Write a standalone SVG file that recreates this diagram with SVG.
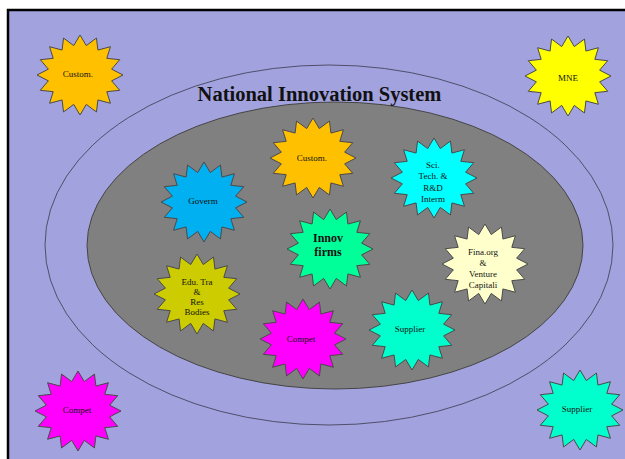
<svg xmlns="http://www.w3.org/2000/svg" xmlns:xlink="http://www.w3.org/1999/xlink" width="625" height="459" viewBox="0 0 625 459">
<style>
.star{stroke:#4a4a4a;stroke-width:1}
.t{font-family:"Liberation Serif","Times New Roman",serif;font-size:9px;fill:#111;text-anchor:middle}
.b{font-family:"Liberation Serif","Times New Roman",serif;font-size:12px;font-weight:bold;fill:#111;text-anchor:middle}
.title{font-family:"Liberation Serif","Times New Roman",serif;font-size:20.5px;font-weight:bold;fill:#111;text-anchor:middle}
</style>
<defs>
<path id="star16" d="M0,-40 L6.29,-29.42 L16.46,-36.96 L17.92,-24.94 L30.41,-28.28 L26.81,-16.67 L39.73,-15.31 L31.63,-5.85 L43,0 L31.63,5.85 L39.73,15.31 L26.81,16.67 L30.41,28.28 L17.92,24.94 L16.46,36.96 L6.29,29.42 L0,40 L-6.29,29.42 L-16.46,36.96 L-17.92,24.94 L-30.41,28.28 L-26.81,16.67 L-39.73,15.31 L-31.63,5.85 L-43,0 L-31.63,-5.85 L-39.73,-15.31 L-26.81,-16.67 L-30.41,-28.28 L-17.92,-24.94 L-16.46,-36.96 L-6.29,-29.42 Z"/>
</defs>
<rect x="0" y="0" width="625" height="459" fill="#ffffff"/>
<rect x="8" y="10" width="640" height="470" fill="#a2a2de" stroke="#000" stroke-width="2.5"/>
<g id="outer-ellipse"><ellipse cx="329" cy="245" rx="284" ry="180" fill="none" stroke="#4f4f6a" stroke-width="1"/></g>
<g id="inner-ellipse"><ellipse cx="335" cy="245.5" rx="248" ry="143.5" fill="#808080" stroke="#454545" stroke-width="1"/></g>
<g id="title"><text class="title" x="319.5" y="101">National Innovation System</text></g>
<g id="connectors"></g>
<g id="custom-outer"><use xlink:href="#star16" href="#star16" x="80" y="75" class="star" fill="#ffc000"/><text class="t" x="78" y="76.5">Custom.</text></g>
<g id="mne"><use xlink:href="#star16" href="#star16" x="568" y="76" class="star" fill="#ffff00"/><text class="t" x="568" y="81">MNE</text></g>
<g id="custom-inner"><use xlink:href="#star16" href="#star16" x="313" y="158" class="star" fill="#ffc000"/><text class="t" x="312" y="161">Custom.</text></g>
<g id="sci"><use xlink:href="#star16" href="#star16" x="434" y="178" class="star" fill="#00ffff"/><text class="t" x="433" y="168"><tspan x="433">Sci.</tspan><tspan x="433" dy="11.3">Tech. &amp;</tspan><tspan x="433" dy="11.3">R&amp;D</tspan><tspan x="433" dy="11.3">Interm</tspan></text></g>
<g id="goverm"><use xlink:href="#star16" href="#star16" x="204" y="202" class="star" fill="#00b0f0"/><text class="t" x="203" y="204">Goverm</text></g>
<g id="innov"><use xlink:href="#star16" href="#star16" x="330" y="249" class="star" fill="#00ff99"/><text class="b" x="328" y="242"><tspan x="328">Innov</tspan><tspan x="328" dy="14">firms</tspan></text></g>
<g id="fina"><use xlink:href="#star16" href="#star16" x="485" y="264" class="star" fill="#ffffcc"/><text class="t" x="483" y="255"><tspan x="483">Fina.org</tspan><tspan x="483" dy="11">&amp;</tspan><tspan x="483" dy="11">Venture</tspan><tspan x="483" dy="11">Capitali</tspan></text></g>
<g id="edu"><use xlink:href="#star16" href="#star16" x="197" y="294" class="star" fill="#cccc00"/><text class="t" x="197" y="285"><tspan x="197">Edu. Tra</tspan><tspan x="197" dy="10">&amp;</tspan><tspan x="197" dy="10">Res</tspan><tspan x="197" dy="10">Bodies</tspan></text></g>
<g id="compet-inner"><use xlink:href="#star16" href="#star16" x="303" y="339" class="star" fill="#ff00ff"/><text class="t" x="301" y="341.5">Compet</text></g>
<g id="supplier-inner"><use xlink:href="#star16" href="#star16" x="412" y="330" class="star" fill="#00ffcc"/><text class="t" x="410" y="332">Supplier</text></g>
<g id="compet-outer"><use xlink:href="#star16" href="#star16" x="78" y="411" class="star" fill="#ff00ff"/><text class="t" x="77" y="413">Compet</text></g>
<g id="supplier-outer"><use xlink:href="#star16" href="#star16" x="580" y="410" class="star" fill="#00ffcc"/><text class="t" x="577" y="412">Supplier</text></g>
</svg>
